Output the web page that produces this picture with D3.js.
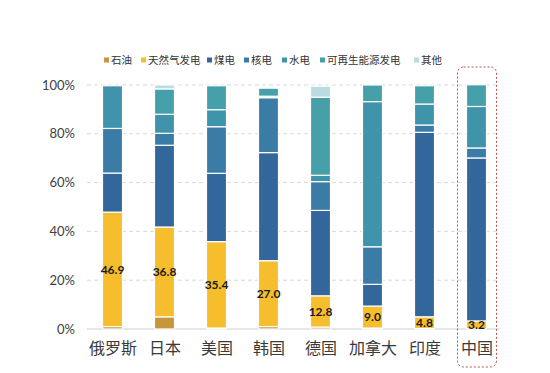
<!DOCTYPE html>
<html>
<head>
<meta charset="utf-8">
<script src="https://cdn.jsdelivr.net/npm/d3@7"></script>
<style>
  body { margin: 0; background: #fff; }
  svg { display: block; }
</style>
</head>
<body>
<div id="chart"></div>
<script>
// chart data (percent of generation)
var countries = ['俄罗斯', '日本', '美国', '韩国', '德国', '加拿大', '印度', '中国'];
var sources = ['石油', '天然气发电', '煤电', '核电', '水电', '可再生能源发电', '其他'];
var oil     = [1.0, 5.0, 0.4, 1.0, 0.8, 0.4, 0.2, 0.1];
var gas     = [46.9, 36.8, 35.4, 27.0, 12.8, 9.0, 4.8, 3.2];
var coal    = [16.0, 33.5, 28.0, 44.3, 35.0, 8.9, 75.6, 66.8];
var nuclear = [18.3, 4.9, 19.1, 22.5, 11.8, 15.4, 3.0, 4.1];
var hydro   = [17.5, 7.8, 7.0, 0.6, 2.6, 59.5, 8.6, 17.0];
var renew   = [0, 10.4, 9.8, 3.3, 32.0, 6.8, 7.5, 8.9];
var other   = [0, 1.6, 0, 0, 4.5, 0, 0, 0];
var yTicks  = [0, 20, 40, 60, 80, 100];
var highlight = '中国';

var colors = ['#c8963a', '#f6bd2c', '#33669a', '#3a7ca6', '#3f93ab', '#46a0a9', '#b9dce3'];

var series = [oil, gas, coal, nuclear, hydro, renew, other];
var table = countries.map(function(c, i){
    var row = {country: c};
    sources.forEach(function(s, k){ row[s] = series[k][i]; });
    return row;
});
var stack = d3.stack().keys(sources)(table);

var width = 550, height = 373;
var svg = d3.select('#chart').append('svg')
    .attr('width', width)
    .attr('height', height);

var xScale = d3.scalePoint().domain(countries).range([86.5, 502.5]).padding(0.5);
var barW = 20;
var yScale = d3.scaleLinear().domain([0, 100]).range([329, 85]);

// grid
svg.append('g').selectAll('line').data(yTicks.filter(function(d){ return d > 0; }))
    .enter().append('line')
    .attr('x1', 87).attr('x2', 500)
    .attr('y1', function(d){ return yScale(d); })
    .attr('y2', function(d){ return yScale(d); })
    .style('stroke', '#d9d9d9')
    .style('stroke-dasharray', '4,3');

svg.append('line')
    .attr('x1', 87).attr('x2', 500)
    .attr('y1', yScale(0)).attr('y2', yScale(0))
    .style('stroke', '#cfcfcf');

// y axis labels
var yAxis = d3.axisLeft(yScale).tickValues(yTicks)
    .tickFormat(function(d){ return d + '%'; })
    .tickSize(0).tickPadding(0);
var gy = svg.append('g').attr('transform', 'translate(75,0)').call(yAxis);
gy.select('.domain').remove();
gy.selectAll('text')
    .style('font-family', 'Lato, "Noto Sans", sans-serif')
    .style('font-size', '13px')
    .style('fill', '#404040');

// bars
var groups = svg.selectAll('.gbars').data(stack).enter().append('g')
    .attr('class', 'gbars')
    .style('fill', function(d){ return colors[d.index]; });

groups.selectAll('rect')
    .data(function(d){ return d.filter(function(p){ return p[1] - p[0] > 0; }); })
    .enter().append('rect')
    .attr('x', function(d){ return xScale(d.data.country) - barW / 2; })
    .attr('y', function(d){ return yScale(d[1]); })
    .attr('width', barW)
    .attr('height', function(d){ return yScale(d[0]) - yScale(d[1]); })
    .style('stroke', '#fff')
    .style('stroke-width', 1.2);

// gas value labels
svg.selectAll('.vlabel').data(countries).enter().append('text')
    .attr('class', 'vlabel')
    .attr('x', function(d){ return xScale(d); })
    .attr('y', function(d, i){ return (yScale(oil[i]) + yScale(oil[i] + gas[i])) / 2; })
    .attr('dy', '0.35em')
    .attr('text-anchor', 'middle')
    .style('font-family', 'Lato, "Noto Sans", sans-serif')
    .style('font-weight', 'bold')
    .style('font-size', '12px')
    .style('fill', '#1a1a1a')
    .text(function(d, i){ return gas[i].toFixed(1); });

// x labels
var xAxis = d3.axisBottom(xScale).tickSize(0).tickPadding(0);
var gx = svg.append('g').attr('transform', 'translate(0,343)').call(xAxis);
gx.select('.domain').remove();
gx.selectAll('text')
    .style('font-family', '"Noto Sans CJK SC", sans-serif')
    .style('font-size', '16px')
    .style('fill', '#3a3a3a');

// highlight box
svg.append('rect')
    .attr('x', xScale(highlight) - 19)
    .attr('y', 67)
    .attr('width', 39)
    .attr('height', 300)
    .attr('rx', 6)
    .style('fill', 'none')
    .style('stroke', '#b5544c')
    .style('stroke-width', 1)
    .style('stroke-dasharray', '2,2');

// legend
var legendX = [104, 141, 207, 244, 282, 320, 414];
var legend = svg.selectAll('.legend').data(sources).enter().append('g')
    .attr('class', 'legend')
    .attr('transform', function(d, i){ return 'translate(' + legendX[i] + ',60)'; });
legend.append('rect')
    .attr('x', 0).attr('y', -2.5)
    .attr('width', 5).attr('height', 5)
    .style('fill', function(d, i){ return colors[i]; });
legend.append('text')
    .attr('x', 7).attr('y', 0).attr('dy', '0.35em')
    .style('font-family', '"Noto Sans CJK SC", sans-serif')
    .style('font-size', '10.5px')
    .style('fill', '#333')
    .text(function(d){ return d; });
</script>
</body>
</html>
